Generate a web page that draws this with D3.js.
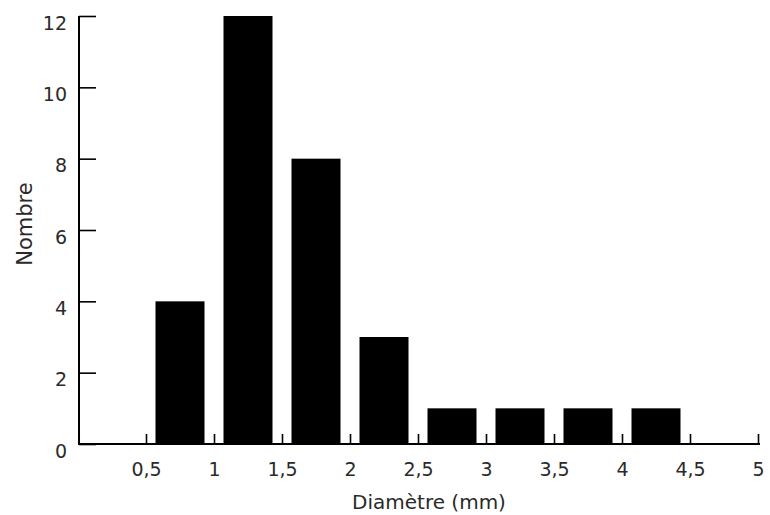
<!DOCTYPE html>
<html><head><meta charset="utf-8">
<script src="https://cdn.jsdelivr.net/npm/d3@7"></script>
<style>body{margin:0;background:#fff;} text{font-family:"DejaVu Sans",sans-serif;fill:#2a2a2a;}</style>
</head><body><svg id="c" width="770" height="515"></svg>
<script>
const binStarts = [0.5, 1, 1.5, 2, 2.5, 3, 3.5, 4];
const binWidth = 0.5;
const counts = [4, 12, 8, 3, 1, 1, 1, 1];
const xTicks = [0.5, 1, 1.5, 2, 2.5, 3, 3.5, 4, 4.5, 5];
const yTicks = [0, 2, 4, 6, 8, 10, 12];
const xTitle = "Diamètre (mm)";
const yTitle = "Nombre";

const svg = d3.select("#c");
const x = d3.scaleLinear().domain([0, 5]).range([78, 758]);
const y = d3.scaleLinear().domain([0, 12]).range([444, 16]);
const inset = 9.5;

svg.append("g").selectAll("rect").data(binStarts).join("rect")
  .attr("x", (d) => x(d) + inset)
  .attr("width", (d) => x(d + binWidth) - x(d) - 2 * inset)
  .attr("y", (d, i) => y(counts[i]))
  .attr("height", (d, i) => y(0) - y(counts[i]))
  .attr("fill", "#000");

const fmt = (d) => String(d).replace(".", ",");

const gx = svg.append("g").attr("transform", `translate(0,${y(0)})`)
  .call(d3.axisBottom(x).tickValues(xTicks).tickFormat(fmt).tickSizeInner(-10).tickSizeOuter(0).tickPadding(19));
gx.select(".domain").attr("d", `M${x(0)},0H${x(5)+2}`).attr("stroke-width", 2);
gx.selectAll(".tick line").attr("stroke-width", 1.6);
gx.selectAll(".tick text").style("font-size", "19px").style("font-family", "DejaVu Sans").attr("fill", "#2a2a2a");

const gy = svg.append("g").attr("transform", `translate(${x(0)+1},0)`)
  .call(d3.axisLeft(y).tickValues(yTicks).tickSizeInner(-17).tickSizeOuter(0).tickPadding(12));
gy.select(".domain").attr("d", `M0,${y(12)}V${y(0)}`).attr("stroke-width", 2);
gy.selectAll(".tick line").attr("stroke-width", 1.6);
gy.selectAll(".tick text").style("font-size", "19px").style("font-family", "DejaVu Sans").attr("fill", "#2a2a2a").attr("dy", "0.69em");

svg.append("text").attr("x", 429).attr("y", 509).attr("text-anchor", "middle")
  .style("font-size", "20px").text(xTitle);
svg.append("text").attr("transform", "translate(32,224) rotate(-90)").attr("text-anchor", "middle")
  .style("font-size", "21px").text(yTitle);
</script></body></html>
